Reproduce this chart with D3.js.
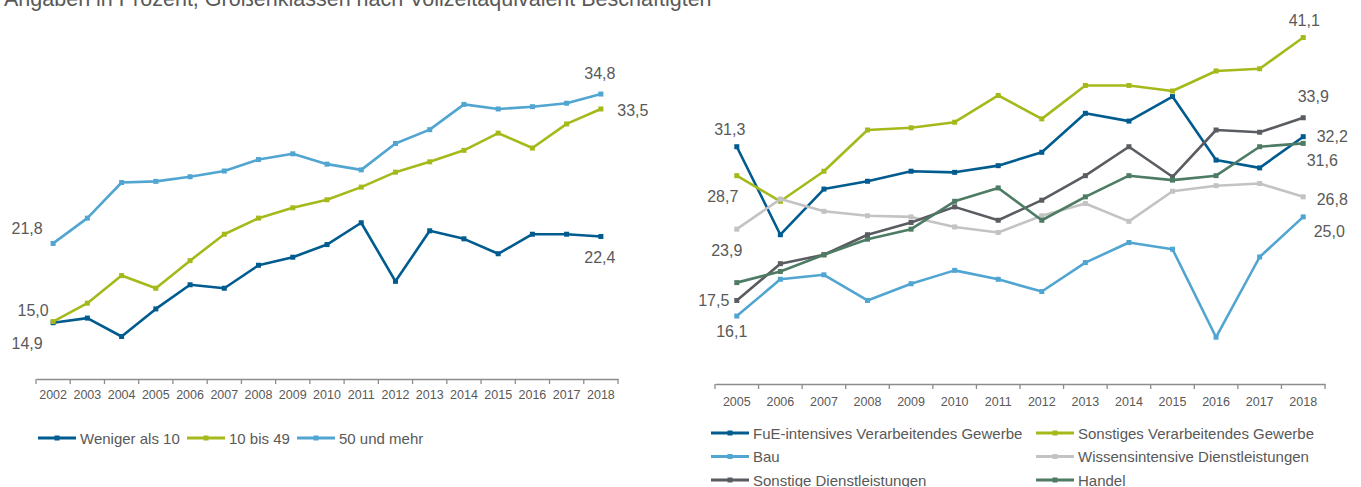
<!DOCTYPE html>
<html>
<head>
<meta charset="utf-8">
<script src="https://cdn.jsdelivr.net/npm/d3@7"></script>
<style>
  body { margin: 0; background: #fff; }
  text { font-family: "Liberation Sans", Arial, sans-serif; fill: #595959; }
</style>
</head>
<body>
<div id="wrapper"></div>
<script>
// left chart: shares by size class, 2002-2018
const yearsLeft = d3.range(2002, 2019)
const sizeClasses = ["Weniger als 10", "10 bis 49", "50 und mehr"]
const wenigerAls10 = [14.9, 15.3, 13.7, 16.1, 18.2, 17.9, 19.9, 20.6, 21.7, 23.6, 18.5, 22.9, 22.2, 20.9, 22.6, 22.6, 22.4]
const zehnBis49 = [15.0, 16.6, 19.0, 17.9, 20.3, 22.6, 24.0, 24.9, 25.6, 26.7, 28.0, 28.9, 29.9, 31.4, 30.1, 32.2, 33.5]
const fuenfzigUndMehr = [21.8, 24.0, 27.1, 27.2, 27.6, 28.1, 29.1, 29.6, 28.7, 28.2, 30.5, 31.7, 33.9, 33.5, 33.7, 34.0, 34.8]

// right chart: shares by sector, 2005-2018
const yearsRight = d3.range(2005, 2019)
const sectors = [
  "FuE-intensives Verarbeitendes Gewerbe", "Sonstiges Verarbeitendes Gewerbe",
  "Bau", "Wissensintensive Dienstleistungen",
  "Sonstige Dienstleistungen", "Handel"
]
const fueIntensiv = [31.3, 23.4, 27.5, 28.2, 29.1, 29.0, 29.6, 30.8, 34.3, 33.6, 35.8, 30.1, 29.4, 32.2]
const sonstigesVerarb = [28.7, 26.4, 29.1, 32.8, 33.0, 33.5, 35.9, 33.8, 36.8, 36.8, 36.3, 38.1, 38.3, 41.1]
const bau = [16.1, 19.4, 19.8, 17.5, 19.0, 20.2, 19.4, 18.3, 20.9, 22.7, 22.1, 14.2, 21.4, 25.0]
const wissensDl = [23.9, 26.6, 25.5, 25.1, 25.0, 24.1, 23.6, 25.1, 26.2, 24.6, 27.3, 27.8, 28.0, 26.8]
const sonstigeDl = [17.5, 20.8, 21.6, 23.4, 24.5, 25.9, 24.7, 26.5, 28.7, 31.3, 28.6, 32.8, 32.6, 33.9]
const handel = [19.1, 20.1, 21.6, 23.0, 23.9, 26.4, 27.6, 24.7, 26.8, 28.7, 28.3, 28.7, 31.3, 31.6]

const fmt = v => d3.format(".1f")(v).replace(".", ",")

const width = 1361
const height = 487

const svg = d3.select("#wrapper").append("svg")
  .attr("width", width)
  .attr("height", height)

// subtitle, cut at the top edge like in the source
svg.append("text")
  .attr("x", 4)
  .attr("y", 5.5)
  .attr("font-size", 21.5)
  .text("Angaben in Prozent, Größenklassen nach Vollzeitäquivalent Beschäftigten")

// draws one panel; labels = [{series, end: "first"|"last", dx, dy}]
function drawPanel(opts) {
  const x = d3.scaleBand().domain(opts.years).range(opts.xRange)
  const y = d3.scaleLinear().domain(opts.yDomain).range(opts.yRange)
  const g = svg.append("g")

  const axis = g.append("g")
    .attr("transform", `translate(0,${opts.yRange[0]})`)
    .call(d3.axisBottom(x).tickSize(0).tickPadding(opts.tickPad))
  axis.select(".domain").attr("stroke", "#8c8c8c").attr("stroke-width", 1.3)
  axis.selectAll("text").attr("font-size", 12.5).style("font-family", "Liberation Sans, Arial, sans-serif").attr("fill", "#595959")

  // ticks between the categories
  const bounds = opts.years.map(d => x(d)).concat([opts.xRange[1]])
  axis.selectAll(".sep").data(bounds).join("line")
    .attr("x1", d => d).attr("x2", d => d)
    .attr("y1", 0).attr("y2", 5)
    .attr("stroke", "#8c8c8c").attr("stroke-width", 1.3)

  const line = d3.line()
    .x((d, i) => x(opts.years[i]) + x.bandwidth() / 2)
    .y(d => y(d))

  opts.series.forEach(s => {
    g.append("path")
      .attr("d", line(s.values))
      .attr("fill", "none")
      .attr("stroke", s.color)
      .attr("stroke-width", 2.6)
      .attr("stroke-linejoin", "round")
    g.selectAll(null).data(s.values).join("rect")
      .attr("x", (d, i) => x(opts.years[i]) + x.bandwidth() / 2 - 2.5)
      .attr("y", d => y(d) - 2.5)
      .attr("width", 5).attr("height", 5)
      .attr("fill", s.color)
  })

  opts.labels.forEach(l => {
    const s = opts.series[l.series]
    const i = l.end === "first" ? 0 : s.values.length - 1
    g.append("text")
      .attr("x", x(opts.years[i]) + x.bandwidth() / 2 + l.dx)
      .attr("y", y(s.values[i]) + l.dy)
      .attr("text-anchor", "middle")
      .attr("font-size", 16)
      .text(fmt(s.values[i]))
  })

  // legend
  opts.series.forEach((s, k) => {
    const pos = opts.legendPos(k)
    const lg = g.append("g").attr("transform", `translate(${pos[0]},${pos[1]})`)
    lg.append("line").attr("x1", 0).attr("x2", 38).attr("stroke", s.color).attr("stroke-width", 3)
    lg.append("rect").attr("x", 16.5).attr("y", -2.5).attr("width", 5).attr("height", 5).attr("fill", s.color)
    lg.append("text").attr("x", 42).attr("y", 5.5).attr("font-size", 15).text(s.name)
  })
}

const dunkelblau = "#005b8f"
const gruen = "#a5b91b"
const hellblau = "#51a5d1"

drawPanel({
  years: yearsLeft,
  xRange: [36, 618],
  yDomain: [10, 40],
  yRange: [379, 379 - 30 * 11.49],
  tickPad: 11,
  series: [
    { name: sizeClasses[0], values: wenigerAls10, color: dunkelblau },
    { name: sizeClasses[1], values: zehnBis49, color: gruen },
    { name: sizeClasses[2], values: fuenfzigUndMehr, color: hellblau }
  ],
  labels: [
    { series: 0, end: "first", dx: -26, dy: 26 },
    { series: 1, end: "first", dx: -20, dy: -6 },
    { series: 2, end: "first", dx: -26, dy: -9 },
    { series: 0, end: "last", dx: -1, dy: 26 },
    { series: 1, end: "last", dx: 32, dy: 7 },
    { series: 2, end: "last", dx: -1, dy: -15 }
  ],
  legendPos: k => [[38, 438], [187, 438], [297, 438]][k]
})

drawPanel({
  years: yearsRight,
  xRange: [715, 1325],
  yDomain: [10, 45],
  yRange: [384, 384 - 35 * 11.14],
  tickPad: 13,
  series: [
    { name: sectors[0], values: fueIntensiv, color: dunkelblau },
    { name: sectors[1], values: sonstigesVerarb, color: gruen },
    { name: sectors[2], values: bau, color: hellblau },
    { name: sectors[3], values: wissensDl, color: "#c3c3c3" },
    { name: sectors[4], values: sonstigeDl, color: "#595c61" },
    { name: sectors[5], values: handel, color: "#4e7b64" }
  ],
  labels: [
    { series: 0, end: "first", dx: -7, dy: -12 },
    { series: 1, end: "first", dx: -14, dy: 26 },
    { series: 3, end: "first", dx: -10, dy: 27 },
    { series: 4, end: "first", dx: -23, dy: 6 },
    { series: 2, end: "first", dx: -5, dy: 21 },
    { series: 1, end: "last", dx: 1, dy: -12 },
    { series: 4, end: "last", dx: 10, dy: -16 },
    { series: 0, end: "last", dx: 29, dy: 5 },
    { series: 5, end: "last", dx: 19, dy: 23 },
    { series: 3, end: "last", dx: 29, dy: 8 },
    { series: 2, end: "last", dx: 26, dy: 20 }
  ],
  legendPos: k => [711 + (k % 2) * 325, 433 + Math.floor(k / 2) * 23.5]
})
</script>
</body>
</html>
